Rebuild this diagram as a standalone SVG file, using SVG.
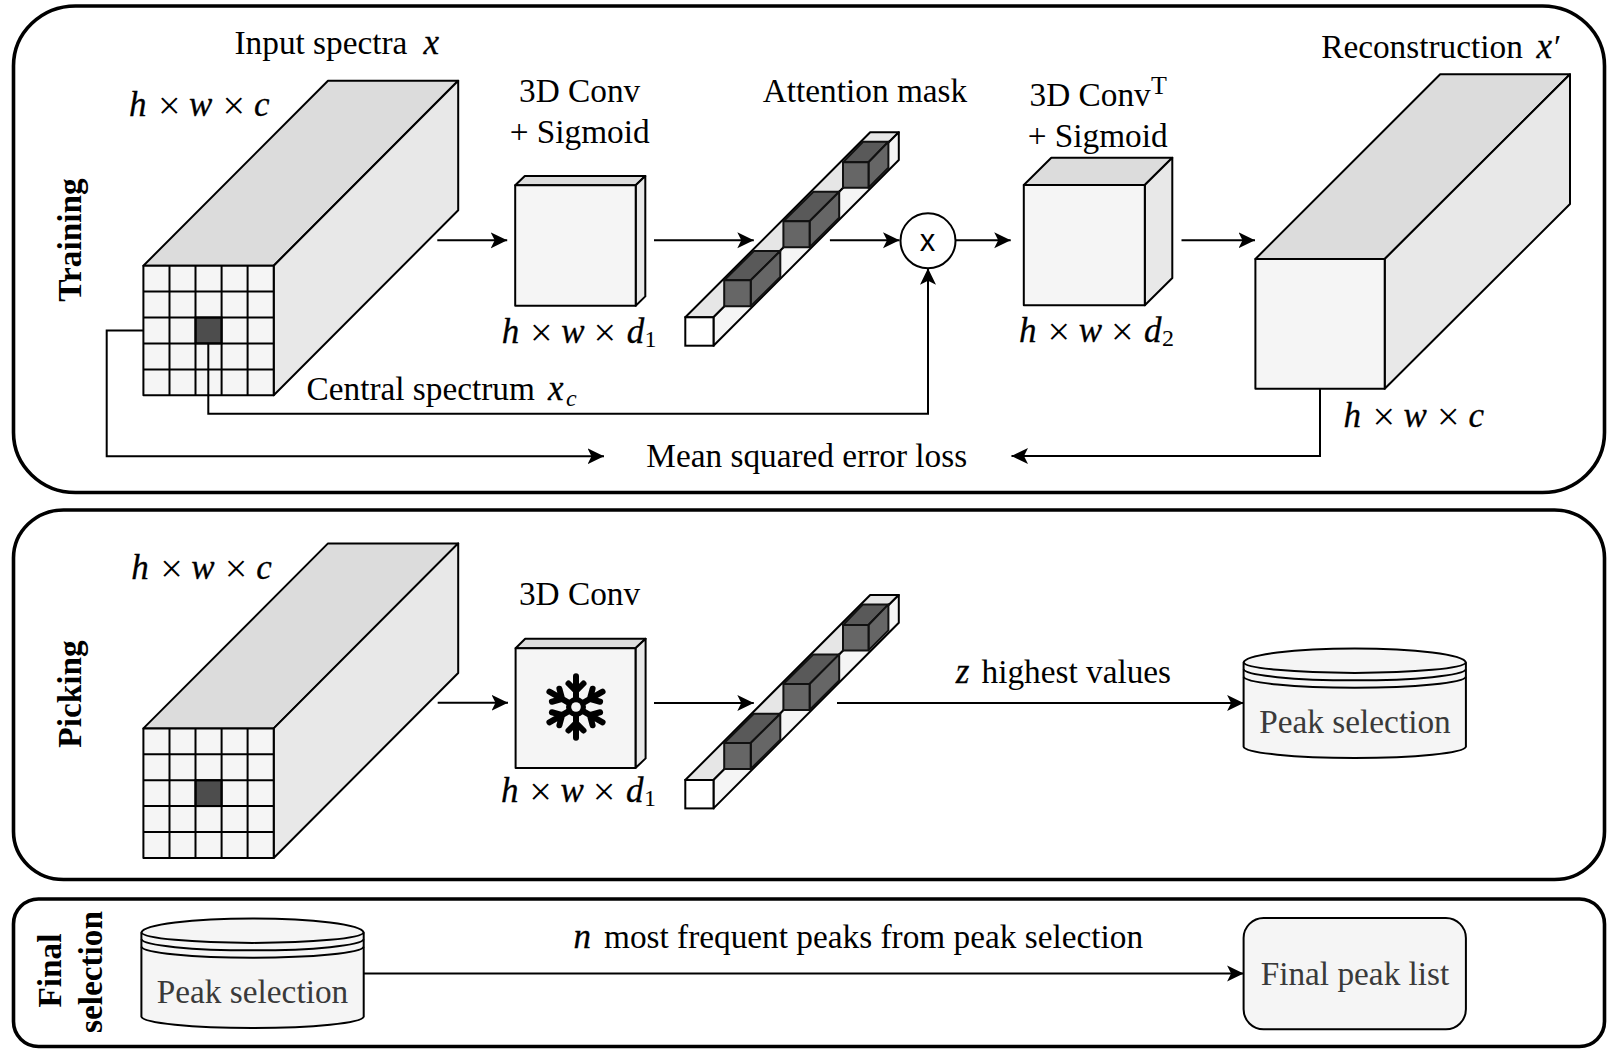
<svg xmlns="http://www.w3.org/2000/svg" xmlns:xlink="http://www.w3.org/1999/xlink" width="1620" height="1058" viewBox="0 0 1620 1058">
<style>
text{font-family:"Liberation Serif","Times New Roman",serif;font-size:33.3px;fill:#000}
.i{font-style:italic;font-size:35px;stroke:#000;stroke-width:.3}
.x{font-size:40px;baseline-shift:-3px}
.s{font-size:24px}
.si{font-size:24px;font-style:italic}
.t{font-size:26px}
.b{font-weight:bold;text-anchor:middle}
.g{fill:#3a3a3a;text-anchor:middle}
.m{text-anchor:middle}
.panel{fill:#fff;stroke:#000;stroke-width:3.6}
.front{fill:#f5f5f5;stroke:#000;stroke-width:2;stroke-linejoin:round}
.top{fill:#dcdcdc;stroke:#000;stroke-width:2;stroke-linejoin:round}
.side{fill:#e8e8e8;stroke:#000;stroke-width:2;stroke-linejoin:round}
.dk{fill:#4d4d4d;stroke:#000;stroke-width:2}
.dt{fill:#595959;stroke:#111;stroke-width:2;stroke-linejoin:round}
.df{fill:#666;stroke:#111;stroke-width:2;stroke-linejoin:round}
.grid{fill:none;stroke:#000;stroke-width:2}
.con{fill:none;stroke:#000;stroke-width:2;stroke-linejoin:miter}
.arr{marker-end:url(#ah)}
.flake{fill:none;stroke:#000;stroke-width:6;stroke-linecap:round;stroke-linejoin:miter}
</style>
<defs>
<marker id="ah" markerUnits="userSpaceOnUse" markerWidth="18" markerHeight="18" viewBox="0 -9 18 18" refX="16.5" refY="0" orient="auto"><path d="M0,-8 L16.5,0 L0,8 L4,0 Z" fill="#000"/></marker>
<g id="gridCuboid">
<polygon class="top" points="143.4,265.7 328,80.7 458.2,80.7 273.7,265.7"/>
<polygon class="side" points="273.7,265.7 458.2,80.7 458.2,210.3 273.7,395.3"/>
<rect class="front" x="143.4" y="265.7" width="130.3" height="129.6"/>
<rect class="dk" x="195.5" y="317.5" width="26.1" height="25.9"/>
<path class="grid" d="M169.5,265.7V395.3M195.5,265.7V395.3M221.6,265.7V395.3M247.6,265.7V395.3M143.4,291.6H273.7M143.4,317.5H273.7M143.4,343.4H273.7M143.4,369.4H273.7"/>
</g>
<g id="strip">
<polygon class="side" style="fill:#e6e6e6" points="685.3,317.3 870.2,132.3 898.8,132.3 713.5,317.3"/>
<polygon class="front" points="713.5,317.3 898.8,132.3 898.8,160 713.5,345.7"/>
<rect x="685.3" y="317.3" width="28.2" height="28.4" fill="#fff" stroke="#000" stroke-width="2"/>
<polygon class="dt" points="724.2,280.3 753.8,251 780.3,251 750.7,280.3"/>
<polygon class="df" points="750.7,280.3 780.3,251 780.3,277 750.7,306.3"/>
<rect class="df" x="724.2" y="280.3" width="26.5" height="26"/>
<polygon class="dt" points="783.4,221.3 813.4,191.7 839.2,191.7 809.6,221.3"/>
<polygon class="df" points="809.6,221.3 839.2,191.7 839.2,217.7 809.6,247.3"/>
<rect class="df" x="783.4" y="221.3" width="26.2" height="26"/>
<polygon class="dt" points="843,162.3 863,141.7 888.4,141.7 868.5,162.3"/>
<polygon class="df" points="868.5,162.3 888.4,141.7 888.4,167.7 868.5,187.7"/>
<rect class="df" x="843" y="162.3" width="25.5" height="25.4"/>
</g>
<g id="cyl">
<path class="front" d="M0,14.5 A111.2,14.5 0 0 1 222.3,14.5 V98.7 A111.2,11.6 0 0 1 0,98.7 Z"/>
<path class="grid" d="M0,14.5 A111.2,10.7 0 0 0 222.3,14.5 M0,21.3 A111.2,11.4 0 0 0 222.3,21.3 M0,28.7 A111.2,11.3 0 0 0 222.3,28.7"/>
</g>
<path id="flakeArm" class="flake" d="M0,-30.7V30.7M-7.5,-23.5L0,-16L7.5,-23.5M-7.5,23.5L0,16L7.5,23.5"/>
</defs>

<g id="panels">
<rect id="panel-training" class="panel" x="13.5" y="6" width="1591" height="486.5" rx="62" ry="60"/>
<rect id="panel-picking" class="panel" x="13.5" y="510" width="1591" height="369.5" rx="50" ry="48"/>
<rect id="panel-final" class="panel" x="13.5" y="899" width="1591" height="147.5" rx="25" ry="25"/>
</g>

<g id="node-training-label"><text class="b" transform="translate(81 240) rotate(-90)">Training</text></g>
<g id="node-picking-label"><text class="b" transform="translate(80.5 694) rotate(-90)">Picking</text></g>
<g id="node-final-label"><text class="b" transform="translate(61 970.5) rotate(-90)">Final</text><text class="b" transform="translate(101.5 972) rotate(-90)">selection</text></g>

<g id="node-input"><use xlink:href="#gridCuboid" href="#gridCuboid"/>
<text y="54"><tspan x="234.5">Input spectra</tspan><tspan class="i" x="423.5">x</tspan></text>
<text y="115.5"><tspan class="i" x="129">h</tspan><tspan class="x" x="158">×</tspan><tspan class="i" x="189">w</tspan><tspan class="x" x="222.5">×</tspan><tspan class="i" x="254">c</tspan></text>
</g>

<g id="node-conv">
<polygon class="top" points="515.2,185.3 524.8,176 645.3,176 635.7,185.3"/>
<polygon class="side" points="635.7,185.3 645.3,176 645.3,296.4 635.7,305.7"/>
<rect class="front" x="515.2" y="185.3" width="120.5" height="120.4"/>
<text class="m" x="579.7" y="101.7">3D Conv</text>
<text class="m" x="579.7" y="142.7">+ Sigmoid</text>
<text y="342.5"><tspan class="i" x="501.7">h</tspan><tspan class="x" x="530">×</tspan><tspan class="i" x="561.3">w</tspan><tspan class="x" x="593.5">×</tspan><tspan class="i" x="626.7">d</tspan><tspan class="s" x="644.6" y="347">1</tspan></text>
</g>

<g id="node-mask"><use xlink:href="#strip" href="#strip"/>
<text class="m" x="865" y="101.7">Attention mask</text>
</g>

<g id="node-mult">
<circle cx="928" cy="240.8" r="27.5" fill="#fff" stroke="#000" stroke-width="2"/>
<text class="m" x="927.5" y="251" style="font-family:'Liberation Sans',Arial,sans-serif;font-size:31px">x</text>
</g>

<g id="node-convt">
<polygon class="top" points="1023.8,185 1051.3,157.7 1172.3,157.7 1144.8,185"/>
<polygon class="side" points="1144.8,185 1172.3,157.7 1172.3,278 1144.8,305.3"/>
<rect class="front" x="1023.8" y="185" width="121" height="120.3"/>
<text y="106"><tspan x="1029.6">3D Conv</tspan><tspan class="t" x="1151" y="93.5">T</tspan></text>
<text class="m" x="1097.7" y="146.7">+ Sigmoid</text>
<text y="341.5"><tspan class="i" x="1019">h</tspan><tspan class="x" x="1047.4">×</tspan><tspan class="i" x="1078.7">w</tspan><tspan class="x" x="1111">×</tspan><tspan class="i" x="1144.1">d</tspan><tspan class="s" x="1162" y="346">2</tspan></text>
</g>

<g id="node-reconstruction">
<polygon class="top" points="1255.4,259 1440.2,74.3 1570,74.3 1384.7,259"/>
<polygon class="side" points="1384.7,259 1570,74.3 1570,204 1384.7,388.7"/>
<rect class="front" x="1255.4" y="259" width="129.3" height="129.7"/>
<text y="58.3"><tspan x="1321.2">Reconstruction</tspan><tspan class="i" x="1536.6">x</tspan><tspan x="1554">′</tspan></text>
<text y="426.5"><tspan class="i" x="1343.4">h</tspan><tspan class="x" x="1372.4">×</tspan><tspan class="i" x="1403.4">w</tspan><tspan class="x" x="1436.9">×</tspan><tspan class="i" x="1468.4">c</tspan></text>
</g>

<g id="node-central-label"><text y="400"><tspan x="306.5">Central spectrum</tspan><tspan class="i" x="548">x</tspan><tspan class="si" x="566" y="406">c</tspan></text></g>
<g id="node-loss"><text x="646.3" y="467">Mean squared error loss</text></g>

<g id="node-input-2"><use xlink:href="#gridCuboid" href="#gridCuboid" transform="translate(0 462.7)"/>
<text y="578.8"><tspan class="i" x="131.3">h</tspan><tspan class="x" x="160.3">×</tspan><tspan class="i" x="191.3">w</tspan><tspan class="x" x="224.8">×</tspan><tspan class="i" x="256.3">c</tspan></text>
</g>

<g id="node-frozen-conv">
<polygon class="top" points="515.6,648.3 525.2,638.7 645.6,638.7 635.5,648.3"/>
<polygon class="side" points="635.5,648.3 645.6,638.7 645.6,758.4 635.5,768"/>
<rect class="front" x="515.6" y="648.3" width="119.9" height="119.7"/>
<g transform="translate(576 707)">
<use xlink:href="#flakeArm" href="#flakeArm"/>
<use xlink:href="#flakeArm" href="#flakeArm" transform="rotate(60)"/>
<use xlink:href="#flakeArm" href="#flakeArm" transform="rotate(120)"/>
<circle r="10" fill="#000"/><circle r="4.8" fill="#f5f5f5"/>
</g>
<text class="m" x="579.5" y="605">3D Conv</text>
<text y="801.5"><tspan class="i" x="501">h</tspan><tspan class="x" x="529.3">×</tspan><tspan class="i" x="560.6">w</tspan><tspan class="x" x="592.8">×</tspan><tspan class="i" x="626">d</tspan><tspan class="s" x="644" y="806">1</tspan></text>
</g>

<g id="node-mask-2"><use xlink:href="#strip" href="#strip" transform="translate(0 462.7)"/></g>
<g id="node-z-label"><text y="682.7"><tspan class="i" x="955.7">z</tspan><tspan x="981.5">highest values</tspan></text></g>

<g id="node-peak-selection"><use xlink:href="#cyl" href="#cyl" transform="translate(1243.6 648)"/>
<text class="g" x="1355" y="732.7">Peak selection</text></g>

<g id="node-peak-selection-2"><use xlink:href="#cyl" href="#cyl" transform="translate(141.4 918)"/>
<text class="g" x="252.5" y="1002.7">Peak selection</text></g>
<g id="node-n-label"><text y="948.3"><tspan class="i" x="573.4">n</tspan><tspan x="604">most frequent peaks from peak selection</tspan></text></g>
<g id="node-final-list">
<rect class="front" x="1243.6" y="918" width="222.3" height="111.3" rx="20" ry="20"/>
<text class="g" x="1355" y="985">Final peak list</text>
</g>

<g id="connectors">
<path class="con" d="M143.4,330.5H106.7V456.3H604" marker-end="url(#ah)"/>
<path class="con" d="M208.3,343.4V413.8H928V268.3" marker-end="url(#ah)"/>
<path class="con" d="M1320,388.7V456H1011.5" marker-end="url(#ah)"/>
<path class="con arr" d="M437.3,240.3H507.2"/>
<path class="con arr" d="M654,240.3H753.8"/>
<path class="con arr" d="M829.9,240.3H899.5"/>
<path class="con arr" d="M955.5,240.3H1010.7"/>
<path class="con arr" d="M1181.5,240.3H1255"/>
<path class="con arr" d="M437.7,702.8H508"/>
<path class="con arr" d="M654,703H753.8"/>
<path class="con arr" d="M837,703H1243.6"/>
<path class="con arr" d="M363.7,973.5H1243.6"/>
</g>
</svg>
